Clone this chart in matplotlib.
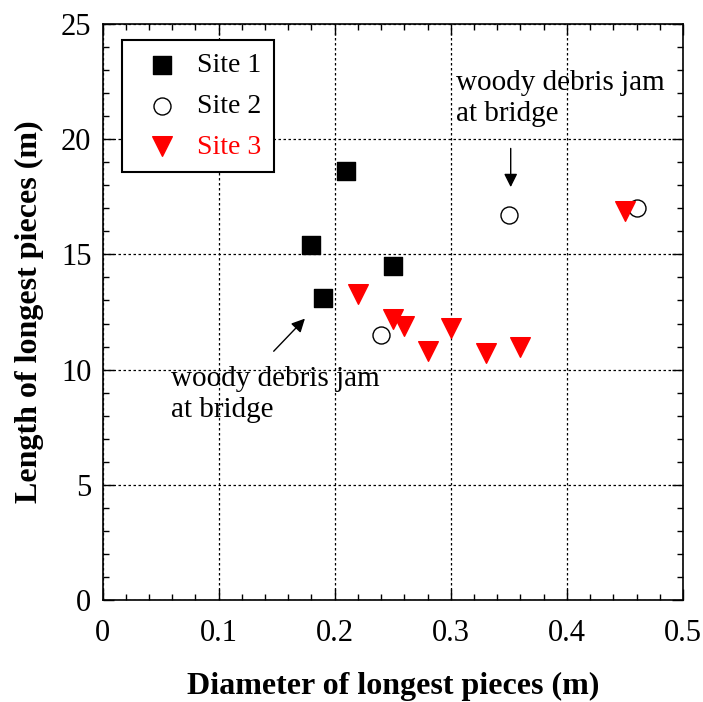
import matplotlib
matplotlib.use("Agg")
import matplotlib.pyplot as plt
from matplotlib.ticker import MultipleLocator

plt.rcParams['font.family'] = ['Liberation Serif', 'DejaVu Serif']

site1_x = [0.21, 0.18, 0.25, 0.19]
site1_y = [18.6, 15.4, 14.5, 13.1]
site2_x = [0.35, 0.24, 0.46]
site2_y = [16.7, 11.5, 17.0]
site3_x = [0.22, 0.25, 0.26, 0.28, 0.30, 0.33, 0.36, 0.45]
site3_y = [13.3, 12.2, 11.9, 10.8, 11.8, 10.7, 11.0, 16.9]
x_ticks = [0, 0.1, 0.2, 0.3, 0.4, 0.5]
x_ticklabels = ['0', '0.1', '0.2', '0.3', '0.4', '0.5']

fig = plt.figure(figsize=(7.03, 7.02), dpi=100)
ax = fig.add_axes([102.5/703, (702-600)/702, (683-102.5)/703, (600-24)/702])

ax.scatter(site1_x, site1_y, marker='s', s=150, color='black', label='Site 1', zorder=3)
ax.scatter(site2_x, site2_y, marker='o', s=150, facecolors='white', edgecolors='black',
           linewidths=1.0, label='Site 2', zorder=3)
ax.scatter(site3_x, site3_y, marker='v', s=200, color='red', label='Site 3', zorder=4)

ax.set_xlim(0, 0.5)
ax.set_ylim(0, 25)
ax.set_xticks(x_ticks)
ax.set_xticklabels(x_ticklabels)
ax.xaxis.set_minor_locator(MultipleLocator(0.02))
ax.yaxis.set_major_locator(MultipleLocator(5))
ax.yaxis.set_minor_locator(MultipleLocator(1))
ax.tick_params(which='both', direction='in', top=True, right=True, labelsize=22, width=1, colors='black')
ax.tick_params(which='major', length=8)
ax.tick_params(axis='x', which='major', pad=14)
ax.tick_params(axis='y', which='major', pad=8)
ax.tick_params(which='minor', length=4)
ax.grid(True, which='major', color='black', linestyle=(0, (2, 2)), linewidth=0.9)
for sp in ax.spines.values():
    sp.set_linewidth(1.2)

ax.set_xlabel('Diameter of longest pieces (m)', fontsize=23, fontweight='bold', labelpad=17)
ax.set_ylabel('Length of longest pieces (m)', fontsize=23, fontweight='bold', labelpad=12)

leg = ax.legend(loc='upper left', bbox_to_anchor=(0.0336, 0.972), borderaxespad=0,
                fontsize=20, frameon=True, fancybox=False, edgecolor='black', framealpha=1,
                handletextpad=0.25, borderpad=0.45, labelspacing=0.55, scatterpoints=1)
leg.get_frame().set_linewidth(1.5)
leg.get_texts()[2].set_color('red')

ax.annotate('', xy=(0.3516, 17.8), xytext=(0.3516, 19.72),
            arrowprops=dict(arrowstyle='-|>', color='black', lw=1.0, mutation_scale=20))
ax.text(0.3045, 23.0, 'woody debris jam\nat bridge', fontsize=21, ha='left', va='top',
        linespacing=1.25)

ax.annotate('', xy=(0.176, 12.3), xytext=(0.1458, 10.71),
            arrowprops=dict(arrowstyle='-|>', color='black', lw=1.0, mutation_scale=20))
ax.text(0.0587, 10.15, 'woody debris jam\nat bridge', fontsize=21, ha='left', va='top',
        linespacing=1.25)

fig.savefig('out.png', dpi=100)
